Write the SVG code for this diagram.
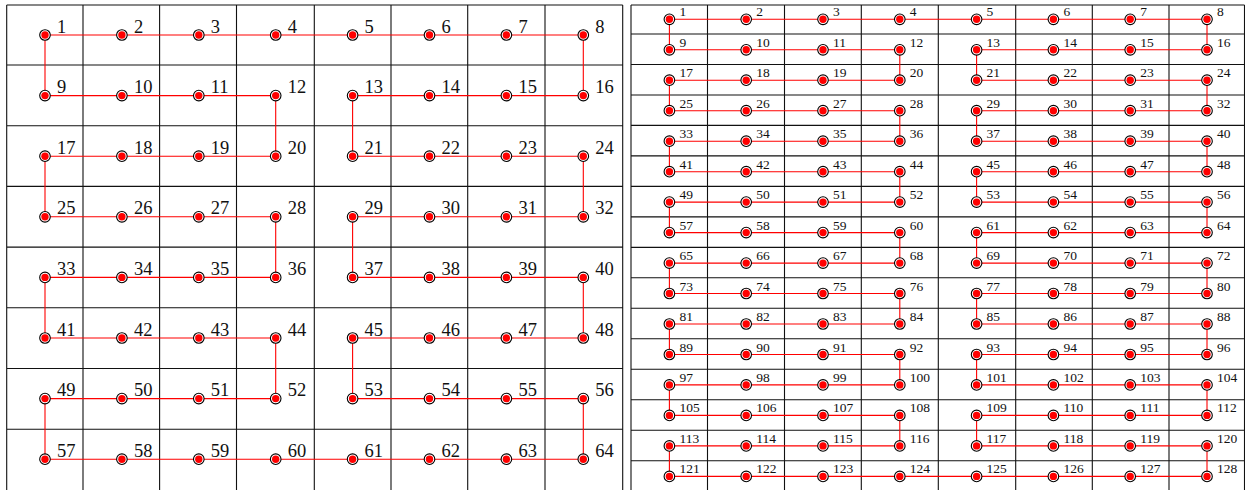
<svg xmlns="http://www.w3.org/2000/svg" xmlns:xlink="http://www.w3.org/1999/xlink" width="1245" height="490" viewBox="0 0 1245 490">
<style>
.grid{fill:none;stroke:#111;stroke-width:1.1}
.conn{fill:none;stroke:#ff0000;stroke-width:1.1;stroke-linejoin:miter}
text{font-family:"Liberation Serif","DejaVu Serif",serif;fill:#111}
.tl{font-size:18.5px}
.tr{font-size:13.5px}
</style>
<defs>
<g id="m"><circle r="5.3" fill="#fff" stroke="#000" stroke-width="1.1"/><circle r="3.7" fill="#ff0000"/></g>
</defs>
<rect width="1245" height="490" fill="#fff"/>
<g id="grid">
<path class="grid" d="M6.7 5V490M83 5V490M159.6 5V490M236.5 5V490M314.3 5V490M391 5V490M467.7 5V490M545 5V490M622.7 5V490M6.7 5H622.7M6.7 65H622.7M6.7 125.7H622.7M6.7 186.4H622.7M6.7 247.1H622.7M6.7 307.8H622.7M6.7 368.5H622.7M6.7 429.2H622.7"/>
<path class="grid" d="M631 5V490M707.5 5V490M784.5 5V490M861.3 5V490M938.3 5V490M1015.7 5V490M1092.3 5V490M1169 5V490M1244.5 5V490M631 5H1244.5M631 34H1244.5M631 64.5H1244.5M631 95H1244.5M631 125.4H1244.5M631 155.9H1244.5M631 186.4H1244.5M631 216.9H1244.5M631 247.4H1244.5M631 277.8H1244.5M631 308.3H1244.5M631 338.8H1244.5M631 369.3H1244.5M631 399.8H1244.5M631 430.2H1244.5M631 460.7H1244.5"/>
</g>
<g id="connectors">
<path class="conn" d="M45 35H583.3V95.6H352.6V156.2H583.3V216.8H352.6V277.4H583.3V338H352.6V398.6H583.3V459.2H45V398.6H275.7V338H45V277.4H275.7V216.8H45V156.2H275.7V95.6H45Z"/>
<path class="conn" d="M669.4 19.3H1207V49.8H976.6V80.2H1207V110.7H976.6V141.2H1207V171.7H976.6V202.1H1207V232.6H976.6V263.1H1207V293.5H976.6V324H1207V354.5H976.6V384.9H1207V415.4H976.6V445.9H1207V476.4H669.4V445.9H899.8V415.4H669.4V384.9H899.8V354.5H669.4V324H899.8V293.5H669.4V263.1H899.8V232.6H669.4V202.1H899.8V171.7H669.4V141.2H899.8V110.7H669.4V80.2H899.8V49.8H669.4Z"/>
</g>
<g id="n1" transform="translate(45,35)"><use href="#m"/><text class="tl" x="12" y="-2.5">1</text></g>
<g id="n2" transform="translate(121.9,35)"><use href="#m"/><text class="tl" x="12" y="-2.5">2</text></g>
<g id="n3" transform="translate(198.8,35)"><use href="#m"/><text class="tl" x="12" y="-2.5">3</text></g>
<g id="n4" transform="translate(275.7,35)"><use href="#m"/><text class="tl" x="12" y="-2.5">4</text></g>
<g id="n5" transform="translate(352.6,35)"><use href="#m"/><text class="tl" x="12" y="-2.5">5</text></g>
<g id="n6" transform="translate(429.5,35)"><use href="#m"/><text class="tl" x="12" y="-2.5">6</text></g>
<g id="n7" transform="translate(506.4,35)"><use href="#m"/><text class="tl" x="12" y="-2.5">7</text></g>
<g id="n8" transform="translate(583.3,35)"><use href="#m"/><text class="tl" x="12" y="-2.5">8</text></g>
<g id="n9" transform="translate(45,95.6)"><use href="#m"/><text class="tl" x="12" y="-2.5">9</text></g>
<g id="n10" transform="translate(121.9,95.6)"><use href="#m"/><text class="tl" x="12" y="-2.5">10</text></g>
<g id="n11" transform="translate(198.8,95.6)"><use href="#m"/><text class="tl" x="12" y="-2.5">11</text></g>
<g id="n12" transform="translate(275.7,95.6)"><use href="#m"/><text class="tl" x="12" y="-2.5">12</text></g>
<g id="n13" transform="translate(352.6,95.6)"><use href="#m"/><text class="tl" x="12" y="-2.5">13</text></g>
<g id="n14" transform="translate(429.5,95.6)"><use href="#m"/><text class="tl" x="12" y="-2.5">14</text></g>
<g id="n15" transform="translate(506.4,95.6)"><use href="#m"/><text class="tl" x="12" y="-2.5">15</text></g>
<g id="n16" transform="translate(583.3,95.6)"><use href="#m"/><text class="tl" x="12" y="-2.5">16</text></g>
<g id="n17" transform="translate(45,156.2)"><use href="#m"/><text class="tl" x="12" y="-2.5">17</text></g>
<g id="n18" transform="translate(121.9,156.2)"><use href="#m"/><text class="tl" x="12" y="-2.5">18</text></g>
<g id="n19" transform="translate(198.8,156.2)"><use href="#m"/><text class="tl" x="12" y="-2.5">19</text></g>
<g id="n20" transform="translate(275.7,156.2)"><use href="#m"/><text class="tl" x="12" y="-2.5">20</text></g>
<g id="n21" transform="translate(352.6,156.2)"><use href="#m"/><text class="tl" x="12" y="-2.5">21</text></g>
<g id="n22" transform="translate(429.5,156.2)"><use href="#m"/><text class="tl" x="12" y="-2.5">22</text></g>
<g id="n23" transform="translate(506.4,156.2)"><use href="#m"/><text class="tl" x="12" y="-2.5">23</text></g>
<g id="n24" transform="translate(583.3,156.2)"><use href="#m"/><text class="tl" x="12" y="-2.5">24</text></g>
<g id="n25" transform="translate(45,216.8)"><use href="#m"/><text class="tl" x="12" y="-2.5">25</text></g>
<g id="n26" transform="translate(121.9,216.8)"><use href="#m"/><text class="tl" x="12" y="-2.5">26</text></g>
<g id="n27" transform="translate(198.8,216.8)"><use href="#m"/><text class="tl" x="12" y="-2.5">27</text></g>
<g id="n28" transform="translate(275.7,216.8)"><use href="#m"/><text class="tl" x="12" y="-2.5">28</text></g>
<g id="n29" transform="translate(352.6,216.8)"><use href="#m"/><text class="tl" x="12" y="-2.5">29</text></g>
<g id="n30" transform="translate(429.5,216.8)"><use href="#m"/><text class="tl" x="12" y="-2.5">30</text></g>
<g id="n31" transform="translate(506.4,216.8)"><use href="#m"/><text class="tl" x="12" y="-2.5">31</text></g>
<g id="n32" transform="translate(583.3,216.8)"><use href="#m"/><text class="tl" x="12" y="-2.5">32</text></g>
<g id="n33" transform="translate(45,277.4)"><use href="#m"/><text class="tl" x="12" y="-2.5">33</text></g>
<g id="n34" transform="translate(121.9,277.4)"><use href="#m"/><text class="tl" x="12" y="-2.5">34</text></g>
<g id="n35" transform="translate(198.8,277.4)"><use href="#m"/><text class="tl" x="12" y="-2.5">35</text></g>
<g id="n36" transform="translate(275.7,277.4)"><use href="#m"/><text class="tl" x="12" y="-2.5">36</text></g>
<g id="n37" transform="translate(352.6,277.4)"><use href="#m"/><text class="tl" x="12" y="-2.5">37</text></g>
<g id="n38" transform="translate(429.5,277.4)"><use href="#m"/><text class="tl" x="12" y="-2.5">38</text></g>
<g id="n39" transform="translate(506.4,277.4)"><use href="#m"/><text class="tl" x="12" y="-2.5">39</text></g>
<g id="n40" transform="translate(583.3,277.4)"><use href="#m"/><text class="tl" x="12" y="-2.5">40</text></g>
<g id="n41" transform="translate(45,338)"><use href="#m"/><text class="tl" x="12" y="-2.5">41</text></g>
<g id="n42" transform="translate(121.9,338)"><use href="#m"/><text class="tl" x="12" y="-2.5">42</text></g>
<g id="n43" transform="translate(198.8,338)"><use href="#m"/><text class="tl" x="12" y="-2.5">43</text></g>
<g id="n44" transform="translate(275.7,338)"><use href="#m"/><text class="tl" x="12" y="-2.5">44</text></g>
<g id="n45" transform="translate(352.6,338)"><use href="#m"/><text class="tl" x="12" y="-2.5">45</text></g>
<g id="n46" transform="translate(429.5,338)"><use href="#m"/><text class="tl" x="12" y="-2.5">46</text></g>
<g id="n47" transform="translate(506.4,338)"><use href="#m"/><text class="tl" x="12" y="-2.5">47</text></g>
<g id="n48" transform="translate(583.3,338)"><use href="#m"/><text class="tl" x="12" y="-2.5">48</text></g>
<g id="n49" transform="translate(45,398.6)"><use href="#m"/><text class="tl" x="12" y="-2.5">49</text></g>
<g id="n50" transform="translate(121.9,398.6)"><use href="#m"/><text class="tl" x="12" y="-2.5">50</text></g>
<g id="n51" transform="translate(198.8,398.6)"><use href="#m"/><text class="tl" x="12" y="-2.5">51</text></g>
<g id="n52" transform="translate(275.7,398.6)"><use href="#m"/><text class="tl" x="12" y="-2.5">52</text></g>
<g id="n53" transform="translate(352.6,398.6)"><use href="#m"/><text class="tl" x="12" y="-2.5">53</text></g>
<g id="n54" transform="translate(429.5,398.6)"><use href="#m"/><text class="tl" x="12" y="-2.5">54</text></g>
<g id="n55" transform="translate(506.4,398.6)"><use href="#m"/><text class="tl" x="12" y="-2.5">55</text></g>
<g id="n56" transform="translate(583.3,398.6)"><use href="#m"/><text class="tl" x="12" y="-2.5">56</text></g>
<g id="n57" transform="translate(45,459.2)"><use href="#m"/><text class="tl" x="12" y="-2.5">57</text></g>
<g id="n58" transform="translate(121.9,459.2)"><use href="#m"/><text class="tl" x="12" y="-2.5">58</text></g>
<g id="n59" transform="translate(198.8,459.2)"><use href="#m"/><text class="tl" x="12" y="-2.5">59</text></g>
<g id="n60" transform="translate(275.7,459.2)"><use href="#m"/><text class="tl" x="12" y="-2.5">60</text></g>
<g id="n61" transform="translate(352.6,459.2)"><use href="#m"/><text class="tl" x="12" y="-2.5">61</text></g>
<g id="n62" transform="translate(429.5,459.2)"><use href="#m"/><text class="tl" x="12" y="-2.5">62</text></g>
<g id="n63" transform="translate(506.4,459.2)"><use href="#m"/><text class="tl" x="12" y="-2.5">63</text></g>
<g id="n64" transform="translate(583.3,459.2)"><use href="#m"/><text class="tl" x="12" y="-2.5">64</text></g>
<g id="r1" transform="translate(669.4,19.3)"><use href="#m"/><text class="tr" x="10" y="-3">1</text></g>
<g id="r2" transform="translate(746.2,19.3)"><use href="#m"/><text class="tr" x="10" y="-3">2</text></g>
<g id="r3" transform="translate(823,19.3)"><use href="#m"/><text class="tr" x="10" y="-3">3</text></g>
<g id="r4" transform="translate(899.8,19.3)"><use href="#m"/><text class="tr" x="10" y="-3">4</text></g>
<g id="r5" transform="translate(976.6,19.3)"><use href="#m"/><text class="tr" x="10" y="-3">5</text></g>
<g id="r6" transform="translate(1053.4,19.3)"><use href="#m"/><text class="tr" x="10" y="-3">6</text></g>
<g id="r7" transform="translate(1130.2,19.3)"><use href="#m"/><text class="tr" x="10" y="-3">7</text></g>
<g id="r8" transform="translate(1207,19.3)"><use href="#m"/><text class="tr" x="10" y="-3">8</text></g>
<g id="r9" transform="translate(669.4,49.8)"><use href="#m"/><text class="tr" x="10" y="-3">9</text></g>
<g id="r10" transform="translate(746.2,49.8)"><use href="#m"/><text class="tr" x="10" y="-3">10</text></g>
<g id="r11" transform="translate(823,49.8)"><use href="#m"/><text class="tr" x="10" y="-3">11</text></g>
<g id="r12" transform="translate(899.8,49.8)"><use href="#m"/><text class="tr" x="10" y="-3">12</text></g>
<g id="r13" transform="translate(976.6,49.8)"><use href="#m"/><text class="tr" x="10" y="-3">13</text></g>
<g id="r14" transform="translate(1053.4,49.8)"><use href="#m"/><text class="tr" x="10" y="-3">14</text></g>
<g id="r15" transform="translate(1130.2,49.8)"><use href="#m"/><text class="tr" x="10" y="-3">15</text></g>
<g id="r16" transform="translate(1207,49.8)"><use href="#m"/><text class="tr" x="10" y="-3">16</text></g>
<g id="r17" transform="translate(669.4,80.2)"><use href="#m"/><text class="tr" x="10" y="-3">17</text></g>
<g id="r18" transform="translate(746.2,80.2)"><use href="#m"/><text class="tr" x="10" y="-3">18</text></g>
<g id="r19" transform="translate(823,80.2)"><use href="#m"/><text class="tr" x="10" y="-3">19</text></g>
<g id="r20" transform="translate(899.8,80.2)"><use href="#m"/><text class="tr" x="10" y="-3">20</text></g>
<g id="r21" transform="translate(976.6,80.2)"><use href="#m"/><text class="tr" x="10" y="-3">21</text></g>
<g id="r22" transform="translate(1053.4,80.2)"><use href="#m"/><text class="tr" x="10" y="-3">22</text></g>
<g id="r23" transform="translate(1130.2,80.2)"><use href="#m"/><text class="tr" x="10" y="-3">23</text></g>
<g id="r24" transform="translate(1207,80.2)"><use href="#m"/><text class="tr" x="10" y="-3">24</text></g>
<g id="r25" transform="translate(669.4,110.7)"><use href="#m"/><text class="tr" x="10" y="-3">25</text></g>
<g id="r26" transform="translate(746.2,110.7)"><use href="#m"/><text class="tr" x="10" y="-3">26</text></g>
<g id="r27" transform="translate(823,110.7)"><use href="#m"/><text class="tr" x="10" y="-3">27</text></g>
<g id="r28" transform="translate(899.8,110.7)"><use href="#m"/><text class="tr" x="10" y="-3">28</text></g>
<g id="r29" transform="translate(976.6,110.7)"><use href="#m"/><text class="tr" x="10" y="-3">29</text></g>
<g id="r30" transform="translate(1053.4,110.7)"><use href="#m"/><text class="tr" x="10" y="-3">30</text></g>
<g id="r31" transform="translate(1130.2,110.7)"><use href="#m"/><text class="tr" x="10" y="-3">31</text></g>
<g id="r32" transform="translate(1207,110.7)"><use href="#m"/><text class="tr" x="10" y="-3">32</text></g>
<g id="r33" transform="translate(669.4,141.2)"><use href="#m"/><text class="tr" x="10" y="-3">33</text></g>
<g id="r34" transform="translate(746.2,141.2)"><use href="#m"/><text class="tr" x="10" y="-3">34</text></g>
<g id="r35" transform="translate(823,141.2)"><use href="#m"/><text class="tr" x="10" y="-3">35</text></g>
<g id="r36" transform="translate(899.8,141.2)"><use href="#m"/><text class="tr" x="10" y="-3">36</text></g>
<g id="r37" transform="translate(976.6,141.2)"><use href="#m"/><text class="tr" x="10" y="-3">37</text></g>
<g id="r38" transform="translate(1053.4,141.2)"><use href="#m"/><text class="tr" x="10" y="-3">38</text></g>
<g id="r39" transform="translate(1130.2,141.2)"><use href="#m"/><text class="tr" x="10" y="-3">39</text></g>
<g id="r40" transform="translate(1207,141.2)"><use href="#m"/><text class="tr" x="10" y="-3">40</text></g>
<g id="r41" transform="translate(669.4,171.7)"><use href="#m"/><text class="tr" x="10" y="-3">41</text></g>
<g id="r42" transform="translate(746.2,171.7)"><use href="#m"/><text class="tr" x="10" y="-3">42</text></g>
<g id="r43" transform="translate(823,171.7)"><use href="#m"/><text class="tr" x="10" y="-3">43</text></g>
<g id="r44" transform="translate(899.8,171.7)"><use href="#m"/><text class="tr" x="10" y="-3">44</text></g>
<g id="r45" transform="translate(976.6,171.7)"><use href="#m"/><text class="tr" x="10" y="-3">45</text></g>
<g id="r46" transform="translate(1053.4,171.7)"><use href="#m"/><text class="tr" x="10" y="-3">46</text></g>
<g id="r47" transform="translate(1130.2,171.7)"><use href="#m"/><text class="tr" x="10" y="-3">47</text></g>
<g id="r48" transform="translate(1207,171.7)"><use href="#m"/><text class="tr" x="10" y="-3">48</text></g>
<g id="r49" transform="translate(669.4,202.1)"><use href="#m"/><text class="tr" x="10" y="-3">49</text></g>
<g id="r50" transform="translate(746.2,202.1)"><use href="#m"/><text class="tr" x="10" y="-3">50</text></g>
<g id="r51" transform="translate(823,202.1)"><use href="#m"/><text class="tr" x="10" y="-3">51</text></g>
<g id="r52" transform="translate(899.8,202.1)"><use href="#m"/><text class="tr" x="10" y="-3">52</text></g>
<g id="r53" transform="translate(976.6,202.1)"><use href="#m"/><text class="tr" x="10" y="-3">53</text></g>
<g id="r54" transform="translate(1053.4,202.1)"><use href="#m"/><text class="tr" x="10" y="-3">54</text></g>
<g id="r55" transform="translate(1130.2,202.1)"><use href="#m"/><text class="tr" x="10" y="-3">55</text></g>
<g id="r56" transform="translate(1207,202.1)"><use href="#m"/><text class="tr" x="10" y="-3">56</text></g>
<g id="r57" transform="translate(669.4,232.6)"><use href="#m"/><text class="tr" x="10" y="-3">57</text></g>
<g id="r58" transform="translate(746.2,232.6)"><use href="#m"/><text class="tr" x="10" y="-3">58</text></g>
<g id="r59" transform="translate(823,232.6)"><use href="#m"/><text class="tr" x="10" y="-3">59</text></g>
<g id="r60" transform="translate(899.8,232.6)"><use href="#m"/><text class="tr" x="10" y="-3">60</text></g>
<g id="r61" transform="translate(976.6,232.6)"><use href="#m"/><text class="tr" x="10" y="-3">61</text></g>
<g id="r62" transform="translate(1053.4,232.6)"><use href="#m"/><text class="tr" x="10" y="-3">62</text></g>
<g id="r63" transform="translate(1130.2,232.6)"><use href="#m"/><text class="tr" x="10" y="-3">63</text></g>
<g id="r64" transform="translate(1207,232.6)"><use href="#m"/><text class="tr" x="10" y="-3">64</text></g>
<g id="r65" transform="translate(669.4,263.1)"><use href="#m"/><text class="tr" x="10" y="-3">65</text></g>
<g id="r66" transform="translate(746.2,263.1)"><use href="#m"/><text class="tr" x="10" y="-3">66</text></g>
<g id="r67" transform="translate(823,263.1)"><use href="#m"/><text class="tr" x="10" y="-3">67</text></g>
<g id="r68" transform="translate(899.8,263.1)"><use href="#m"/><text class="tr" x="10" y="-3">68</text></g>
<g id="r69" transform="translate(976.6,263.1)"><use href="#m"/><text class="tr" x="10" y="-3">69</text></g>
<g id="r70" transform="translate(1053.4,263.1)"><use href="#m"/><text class="tr" x="10" y="-3">70</text></g>
<g id="r71" transform="translate(1130.2,263.1)"><use href="#m"/><text class="tr" x="10" y="-3">71</text></g>
<g id="r72" transform="translate(1207,263.1)"><use href="#m"/><text class="tr" x="10" y="-3">72</text></g>
<g id="r73" transform="translate(669.4,293.5)"><use href="#m"/><text class="tr" x="10" y="-3">73</text></g>
<g id="r74" transform="translate(746.2,293.5)"><use href="#m"/><text class="tr" x="10" y="-3">74</text></g>
<g id="r75" transform="translate(823,293.5)"><use href="#m"/><text class="tr" x="10" y="-3">75</text></g>
<g id="r76" transform="translate(899.8,293.5)"><use href="#m"/><text class="tr" x="10" y="-3">76</text></g>
<g id="r77" transform="translate(976.6,293.5)"><use href="#m"/><text class="tr" x="10" y="-3">77</text></g>
<g id="r78" transform="translate(1053.4,293.5)"><use href="#m"/><text class="tr" x="10" y="-3">78</text></g>
<g id="r79" transform="translate(1130.2,293.5)"><use href="#m"/><text class="tr" x="10" y="-3">79</text></g>
<g id="r80" transform="translate(1207,293.5)"><use href="#m"/><text class="tr" x="10" y="-3">80</text></g>
<g id="r81" transform="translate(669.4,324)"><use href="#m"/><text class="tr" x="10" y="-3">81</text></g>
<g id="r82" transform="translate(746.2,324)"><use href="#m"/><text class="tr" x="10" y="-3">82</text></g>
<g id="r83" transform="translate(823,324)"><use href="#m"/><text class="tr" x="10" y="-3">83</text></g>
<g id="r84" transform="translate(899.8,324)"><use href="#m"/><text class="tr" x="10" y="-3">84</text></g>
<g id="r85" transform="translate(976.6,324)"><use href="#m"/><text class="tr" x="10" y="-3">85</text></g>
<g id="r86" transform="translate(1053.4,324)"><use href="#m"/><text class="tr" x="10" y="-3">86</text></g>
<g id="r87" transform="translate(1130.2,324)"><use href="#m"/><text class="tr" x="10" y="-3">87</text></g>
<g id="r88" transform="translate(1207,324)"><use href="#m"/><text class="tr" x="10" y="-3">88</text></g>
<g id="r89" transform="translate(669.4,354.5)"><use href="#m"/><text class="tr" x="10" y="-3">89</text></g>
<g id="r90" transform="translate(746.2,354.5)"><use href="#m"/><text class="tr" x="10" y="-3">90</text></g>
<g id="r91" transform="translate(823,354.5)"><use href="#m"/><text class="tr" x="10" y="-3">91</text></g>
<g id="r92" transform="translate(899.8,354.5)"><use href="#m"/><text class="tr" x="10" y="-3">92</text></g>
<g id="r93" transform="translate(976.6,354.5)"><use href="#m"/><text class="tr" x="10" y="-3">93</text></g>
<g id="r94" transform="translate(1053.4,354.5)"><use href="#m"/><text class="tr" x="10" y="-3">94</text></g>
<g id="r95" transform="translate(1130.2,354.5)"><use href="#m"/><text class="tr" x="10" y="-3">95</text></g>
<g id="r96" transform="translate(1207,354.5)"><use href="#m"/><text class="tr" x="10" y="-3">96</text></g>
<g id="r97" transform="translate(669.4,384.9)"><use href="#m"/><text class="tr" x="10" y="-3">97</text></g>
<g id="r98" transform="translate(746.2,384.9)"><use href="#m"/><text class="tr" x="10" y="-3">98</text></g>
<g id="r99" transform="translate(823,384.9)"><use href="#m"/><text class="tr" x="10" y="-3">99</text></g>
<g id="r100" transform="translate(899.8,384.9)"><use href="#m"/><text class="tr" x="10" y="-3">100</text></g>
<g id="r101" transform="translate(976.6,384.9)"><use href="#m"/><text class="tr" x="10" y="-3">101</text></g>
<g id="r102" transform="translate(1053.4,384.9)"><use href="#m"/><text class="tr" x="10" y="-3">102</text></g>
<g id="r103" transform="translate(1130.2,384.9)"><use href="#m"/><text class="tr" x="10" y="-3">103</text></g>
<g id="r104" transform="translate(1207,384.9)"><use href="#m"/><text class="tr" x="10" y="-3">104</text></g>
<g id="r105" transform="translate(669.4,415.4)"><use href="#m"/><text class="tr" x="10" y="-3">105</text></g>
<g id="r106" transform="translate(746.2,415.4)"><use href="#m"/><text class="tr" x="10" y="-3">106</text></g>
<g id="r107" transform="translate(823,415.4)"><use href="#m"/><text class="tr" x="10" y="-3">107</text></g>
<g id="r108" transform="translate(899.8,415.4)"><use href="#m"/><text class="tr" x="10" y="-3">108</text></g>
<g id="r109" transform="translate(976.6,415.4)"><use href="#m"/><text class="tr" x="10" y="-3">109</text></g>
<g id="r110" transform="translate(1053.4,415.4)"><use href="#m"/><text class="tr" x="10" y="-3">110</text></g>
<g id="r111" transform="translate(1130.2,415.4)"><use href="#m"/><text class="tr" x="10" y="-3">111</text></g>
<g id="r112" transform="translate(1207,415.4)"><use href="#m"/><text class="tr" x="10" y="-3">112</text></g>
<g id="r113" transform="translate(669.4,445.9)"><use href="#m"/><text class="tr" x="10" y="-3">113</text></g>
<g id="r114" transform="translate(746.2,445.9)"><use href="#m"/><text class="tr" x="10" y="-3">114</text></g>
<g id="r115" transform="translate(823,445.9)"><use href="#m"/><text class="tr" x="10" y="-3">115</text></g>
<g id="r116" transform="translate(899.8,445.9)"><use href="#m"/><text class="tr" x="10" y="-3">116</text></g>
<g id="r117" transform="translate(976.6,445.9)"><use href="#m"/><text class="tr" x="10" y="-3">117</text></g>
<g id="r118" transform="translate(1053.4,445.9)"><use href="#m"/><text class="tr" x="10" y="-3">118</text></g>
<g id="r119" transform="translate(1130.2,445.9)"><use href="#m"/><text class="tr" x="10" y="-3">119</text></g>
<g id="r120" transform="translate(1207,445.9)"><use href="#m"/><text class="tr" x="10" y="-3">120</text></g>
<g id="r121" transform="translate(669.4,476.4)"><use href="#m"/><text class="tr" x="10" y="-3">121</text></g>
<g id="r122" transform="translate(746.2,476.4)"><use href="#m"/><text class="tr" x="10" y="-3">122</text></g>
<g id="r123" transform="translate(823,476.4)"><use href="#m"/><text class="tr" x="10" y="-3">123</text></g>
<g id="r124" transform="translate(899.8,476.4)"><use href="#m"/><text class="tr" x="10" y="-3">124</text></g>
<g id="r125" transform="translate(976.6,476.4)"><use href="#m"/><text class="tr" x="10" y="-3">125</text></g>
<g id="r126" transform="translate(1053.4,476.4)"><use href="#m"/><text class="tr" x="10" y="-3">126</text></g>
<g id="r127" transform="translate(1130.2,476.4)"><use href="#m"/><text class="tr" x="10" y="-3">127</text></g>
<g id="r128" transform="translate(1207,476.4)"><use href="#m"/><text class="tr" x="10" y="-3">128</text></g>
</svg>
